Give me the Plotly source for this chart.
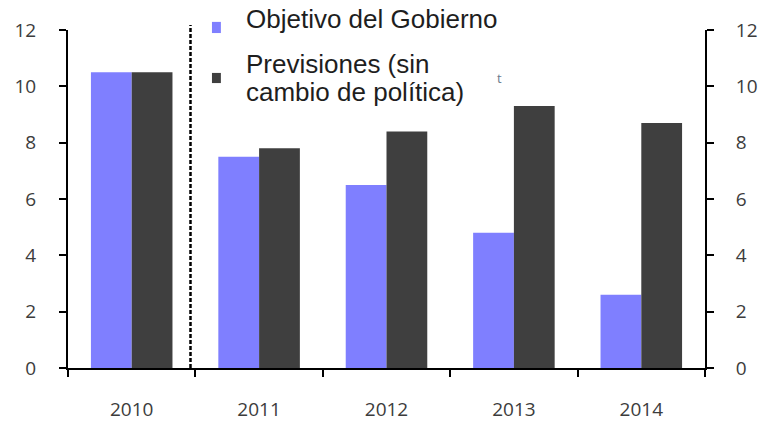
import plotly.graph_objects as go

years = ["2010", "2011", "2012", "2013", "2014"]
objetivo = [10.5, 7.5, 6.5, 4.8, 2.6]
previsiones = [10.5, 7.8, 8.4, 9.3, 8.7]
y_ticks = [0, 2, 4, 6, 8, 10, 12]

name_obj = "Objetivo del Gobierno"
name_prev_1 = "Previsiones (sin"
name_prev_2 = "cambio de política)"

PURPLE = "#7f7fff"
DARK = "#3f3f3f"
TICK_FONT = dict(family="Open Sans", size=19, color="#3c3c3c")
LEG_FONT = dict(family="Liberation Sans", size=26, color="#1e1e1e")

fig = go.Figure()
fig.add_trace(go.Bar(x=years, y=objetivo, name=name_obj, marker=dict(color=PURPLE, line=dict(width=0))))
fig.add_trace(go.Bar(x=years, y=previsiones, name=name_prev_1 + " " + name_prev_2,
                     marker=dict(color=DARK, line=dict(width=0))))
# invisible trace to activate the right-hand axis
fig.add_trace(go.Scatter(x=years, y=previsiones, yaxis="y2", mode="markers",
                         marker=dict(opacity=0), hoverinfo="skip", showlegend=False))

axis_common = dict(range=[0, 12], tickvals=y_ticks, showline=True, linewidth=2, linecolor="black",
                   ticks="outside", ticklen=7, tickwidth=2, tickcolor="black", automargin=False,
                   showgrid=False, zeroline=False, tickfont=TICK_FONT, fixedrange=True)

fig.update_layout(
    width=760, height=423, autosize=False,
    margin=dict(l=68, r=55, t=30, b=55),
    paper_bgcolor="white", plot_bgcolor="white",
    barmode="group", bargap=0.36, bargroupgap=0,
    showlegend=False,
    xaxis=dict(type="category", tickson="boundaries", ticks="outside", ticklen=7, tickwidth=2,
               tickcolor="black", showline=True, linewidth=2, linecolor="black", showgrid=False,
               tickfont=TICK_FONT, ticklabelstandoff=23, automargin=False, fixedrange=True),
    yaxis=dict(side="left", ticklabelstandoff=19, **axis_common),
    yaxis2=dict(side="right", overlaying="y", ticklabelstandoff=18, **axis_common),
)

# dashed separator between actual and projected
fig.add_shape(type="line", xref="paper", yref="paper", x0=0.1923, x1=0.1923, y0=0, y1=1.015,
              line=dict(color="black", width=2.5, dash="4px,2px"))

# manual legend
fig.add_shape(type="rect", xref="paper", yref="paper", x0=0.226, x1=0.240, y0=0.991, y1=1.024,
              fillcolor=PURPLE, line=dict(width=0))
fig.add_shape(type="rect", xref="paper", yref="paper", x0=0.226, x1=0.240, y0=0.843, y1=0.873,
              fillcolor=DARK, line=dict(width=0))
fig.add_annotation(text=name_obj, xref="paper", yref="paper", x=0.2763, y=1.0325,
                   xanchor="left", yanchor="middle", showarrow=False, font=LEG_FONT)
fig.add_annotation(text=name_prev_1, xref="paper", yref="paper", x=0.2763, y=0.899,
                   xanchor="left", yanchor="middle", showarrow=False, font=LEG_FONT)
fig.add_annotation(text=name_prev_2, xref="paper", yref="paper", x=0.2763, y=0.8166,
                   xanchor="left", yanchor="middle", showarrow=False, font=LEG_FONT)
fig.add_annotation(text="t", xref="paper", yref="paper", x=0.678, y=0.858,
                   xanchor="center", yanchor="middle", showarrow=False,
                   font=dict(family="Open Sans", size=13, color="#6b7b8c"))

fig.write_html("out.html", config={"displayModeBar": False},
               post_script="document.body.style.margin='0px';")
